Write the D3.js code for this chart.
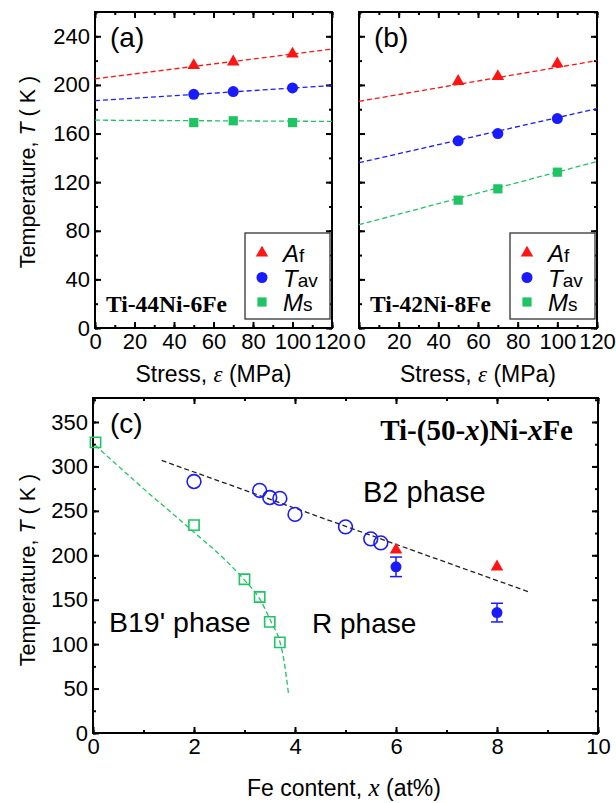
<!DOCTYPE html>
<html lang="en">
<head>
<meta charset="UTF-8" />
<title>Ti-Ni-Fe transformation temperatures</title>
<script src="https://d3js.org/d3.v7.min.js"></script>
<style>
    body { margin: 0; background: #fff; }
    svg { display: block; }
    .sans { font-family: Arial, "Liberation Sans", sans-serif; }
    .serif { font-family: "Times New Roman", "Liberation Serif", serif; }
</style>
</head>
<body>
<div id="chart"></div>
<script>
// ---- data: panels (a) and (b), stress vs temperature
const stress = [50, 70, 100];
const fitStress = [0, 120];

const afA = [216, 219, 225.5];
const tavA = [192.3, 194.5, 197.5];
const msA = [169, 170.5, 169];
const fitAfA = [205, 229.5];
const fitTavA = [187, 199.5];
const fitMsA = [171, 170];

const afB = [203, 207, 217.5];
const tavB = [154, 160, 172.3];
const msB = [105.2, 114.5, 128.2];
const fitAfB = [186.5, 220];
const fitTavB = [136, 180.5];
const fitMsB = [85, 137];

// ---- data: panel (c), Fe content vs temperature
const feMs = [0.05, 2, 3, 3.3, 3.5, 3.7];
const tMs = [327, 234, 173, 153, 125, 102];
const msCurveX = [0.04, 1, 2, 2.65, 3, 3.3, 3.54, 3.7, 3.78, 3.87];
const msCurveY = [324, 275, 226, 193, 172, 151, 123.5, 102.8, 82, 44.7];

const feB2 = [2, 3.3, 3.5, 3.7, 4, 5, 5.5, 5.7];
const tB2 = [283, 273, 265, 264, 246, 232, 218.5, 214];
const b2LineX = [1.36, 8.62];
const b2LineY = [306.7, 159];

const feAf = [6, 8];
const tAf = [206, 187];
const feTav = [6, 8];
const tTav = [187, 135.5];
const tTavErr = [11, 10.5];

const stressTicks = [0, 20, 40, 60, 80, 100, 120];
const tempTicksAB = [0, 40, 80, 120, 160, 200, 240];
const feTicks = [0, 2, 4, 6, 8, 10];
const tempTicksC = [0, 50, 100, 150, 200, 250, 300, 350];

const RED = "#ff1414";
const BLUE = "#1a1aff";
const GREEN = "#1fc565";

const width = 616, height = 803;

const svg = d3.select("#chart").append("svg")
    .attr("width", width)
    .attr("height", height);

// frame with inward ticks on all four sides
function drawFrame(x, y, majorX, minorX, majorY, minorY, showX, showY) {
    const g = svg.append("g");
    const [x0, x1] = x.range();
    const [y0, y1] = y.range();

    const addTicks = (axisFn, scale, vals, size, pos, labels) => {
        const ax = axisFn(scale).tickValues(vals).tickSizeInner(-size).tickSizeOuter(0)
            .tickPadding(5);
        if (!labels) ax.tickFormat("");
        const a = g.append("g").attr("transform", pos).call(ax);
        a.select(".domain").remove();
        a.selectAll(".tick line").attr("stroke", "#000").attr("stroke-width", 2);
        a.selectAll("text").attr("class", "sans").attr("font-size", 22).attr("fill", "#000");
        return a;
    };

    addTicks(d3.axisBottom, x, minorX, 3, `translate(0,${y0})`, false);
    addTicks(d3.axisBottom, x, majorX, 6, `translate(0,${y0})`, showX);
    addTicks(d3.axisTop, x, minorX, 3, `translate(0,${y1})`, false);
    addTicks(d3.axisTop, x, majorX, 6, `translate(0,${y1})`, false);
    addTicks(d3.axisLeft, y, minorY, 3, `translate(${x0},0)`, false);
    addTicks(d3.axisLeft, y, majorY, 6, `translate(${x0},0)`, showY);
    addTicks(d3.axisRight, y, minorY, 3, `translate(${x1},0)`, false);
    addTicks(d3.axisRight, y, majorY, 6, `translate(${x1},0)`, false);

    g.append("rect")
        .attr("x", x0).attr("y", y1)
        .attr("width", x1 - x0).attr("height", y0 - y1)
        .attr("fill", "none").attr("stroke", "#000").attr("stroke-width", 2);
    return g;
}

function dashed(xs, ys, x, y, color, curve) {
    const line = d3.line().x(d => x(d[0])).y(d => y(d[1]));
    if (curve) line.curve(curve);
    svg.append("path")
        .datum(xs.map((v, i) => [v, ys[i]]))
        .attr("d", line)
        .attr("fill", "none")
        .attr("stroke", color)
        .attr("stroke-width", 1.3)
        .attr("stroke-dasharray", "5,3");
}

const tri = d3.symbol().type(d3.symbolTriangle).size(68);
const circ = d3.symbol().type(d3.symbolCircle).size(95);
const sq = d3.symbol().type(d3.symbolSquare).size(85);

function markers(xs, ys, x, y, sym, color, filled) {
    svg.append("g").selectAll("path")
        .data(xs.map((v, i) => [v, ys[i]]))
        .join("path")
        .attr("transform", d => `translate(${x(d[0])},${y(d[1])})`)
        .attr("d", sym)
        .attr("fill", filled ? color : "none")
        .attr("stroke", color)
        .attr("stroke-width", filled ? 0 : 1.6);
}

function stressPanel(xRange, af, tav, ms, fitAf, fitTav, fitMs, tag, alloy, showY) {
    const x = d3.scaleLinear().domain([0, 120]).range(xRange);
    const y = d3.scaleLinear().domain([0, 260]).range([328, 12]);
    const minorX = d3.range(0, 121, 10);
    const minorY = d3.range(0, 261, 20);
    drawFrame(x, y, stressTicks, minorX, tempTicksAB, minorY, true, showY);

    dashed(fitStress, fitAf, x, y, RED);
    dashed(fitStress, fitTav, x, y, BLUE);
    dashed(fitStress, fitMs, x, y, GREEN);
    markers(stress, af, x, y, tri, RED, true);
    markers(stress, tav, x, y, circ, BLUE, true);
    markers(stress, ms, x, y, sq, GREEN, true);

    svg.append("text").attr("class", "sans")
        .attr("x", xRange[0] + 15).attr("y", 47)
        .attr("font-size", 28).text(tag);

    svg.append("text").attr("class", "serif")
        .attr("x", xRange[0] + 11).attr("y", 312)
        .attr("font-size", 23.5).attr("font-weight", "bold").text(alloy);

    // legend
    const lx = xRange[1] - 87, ly = 233;
    svg.append("rect").attr("x", lx).attr("y", ly)
        .attr("width", 85).attr("height", 86)
        .attr("fill", "#fff").attr("stroke", "#333").attr("stroke-width", 1.3);
    const items = [
        { sym: tri, color: RED, main: "A", sub: "f" },
        { sym: circ, color: BLUE, main: "T", sub: "av" },
        { sym: sq, color: GREEN, main: "M", sub: "s" }
    ];
    items.forEach((it, i) => {
        const cy = ly + 20 + i * 24.5;
        svg.append("path")
            .attr("transform", `translate(${lx + 17},${cy})`)
            .attr("d", it.sym).attr("fill", it.color);
        const t = svg.append("text").attr("class", "sans")
            .attr("x", lx + 38).attr("y", cy + 9).attr("font-size", 24);
        t.append("tspan").attr("font-style", "italic").text(it.main);
        t.append("tspan").attr("font-size", 19).text(it.sub);
    });

    const xt = svg.append("text").attr("class", "sans")
        .attr("x", (xRange[0] + xRange[1]) / 2).attr("y", 382)
        .attr("text-anchor", "middle").attr("font-size", 23);
    xt.append("tspan").text("Stress, ");
    xt.append("tspan").attr("class", "serif").attr("font-style", "italic").text("\u03b5");
    xt.append("tspan").text(" (MPa)");
}

function yTitle(cy) {
    const t = svg.append("text").attr("class", "sans")
        .attr("transform", `translate(35,${cy}) rotate(-90)`)
        .attr("text-anchor", "middle").attr("font-size", 21.5);
    t.append("tspan").text("Temperature, ");
    t.append("tspan").attr("font-style", "italic").text("T");
    t.append("tspan").text(" ( K )");
}

stressPanel([95, 332], afA, tavA, msA, fitAfA, fitTavA, fitMsA, "(a)", "Ti-44Ni-6Fe", true);
stressPanel([359, 597], afB, tavB, msB, fitAfB, fitTavB, fitMsB, "(b)", "Ti-42Ni-8Fe", false);
yTitle(172);

// ---- panel (c)
const xc = d3.scaleLinear().domain([0, 10]).range([93, 598]);
const yc = d3.scaleLinear().domain([0, 377]).range([733, 398]);
drawFrame(xc, yc, feTicks, d3.range(0, 11, 1), tempTicksC, d3.range(0, 376, 25), true, true);

dashed(msCurveX, msCurveY, xc, yc, GREEN, d3.curveMonotoneX);
dashed(b2LineX, b2LineY, xc, yc, "#222");

markers(feMs, tMs, xc, yc, d3.symbol().type(d3.symbolSquare).size(105), GREEN, false);
markers(feB2, tB2, xc, yc, d3.symbol().type(d3.symbolCircle).size(150), BLUE, false);

// error bars
const err = svg.append("g").attr("stroke", BLUE).attr("stroke-width", 1.5);
feTav.forEach((f, i) => {
    const cx = xc(f), lo = yc(tTav[i] - tTavErr[i]), hi = yc(tTav[i] + tTavErr[i]);
    err.append("line").attr("x1", cx).attr("x2", cx).attr("y1", lo).attr("y2", hi);
    err.append("line").attr("x1", cx - 6).attr("x2", cx + 6).attr("y1", lo).attr("y2", lo);
    err.append("line").attr("x1", cx - 6).attr("x2", cx + 6).attr("y1", hi).attr("y2", hi);
});
markers(feTav, tTav, xc, yc, circ, BLUE, true);
markers(feAf, tAf, xc, yc, tri, RED, true);

svg.append("text").attr("class", "sans").attr("x", 110).attr("y", 433)
    .attr("font-size", 28).text("(c)");

const alloyC = svg.append("text").attr("class", "serif")
    .attr("x", 573).attr("y", 440).attr("text-anchor", "end")
    .attr("font-size", 29).attr("font-weight", "bold");
alloyC.append("tspan").text("Ti-(50-");
alloyC.append("tspan").attr("font-style", "italic").text("x");
alloyC.append("tspan").text(")Ni-");
alloyC.append("tspan").attr("font-style", "italic").text("x");
alloyC.append("tspan").text("Fe");

svg.append("text").attr("class", "sans").attr("x", 363).attr("y", 502)
    .attr("font-size", 29).text("B2 phase");
svg.append("text").attr("class", "sans").attr("x", 109).attr("y", 632)
    .attr("font-size", 28.5).text("B19' phase");
svg.append("text").attr("class", "sans").attr("x", 312).attr("y", 633)
    .attr("font-size", 28).text("R phase");

const xtc = svg.append("text").attr("class", "sans")
    .attr("x", 344).attr("y", 796)
    .attr("text-anchor", "middle").attr("font-size", 23);
xtc.append("tspan").text("Fe content, ");
xtc.append("tspan").attr("class", "serif").attr("font-style", "italic").attr("font-size", 25).text("x");
xtc.append("tspan").text(" (at%)");

yTitle(570);
</script>
</body>
</html>
